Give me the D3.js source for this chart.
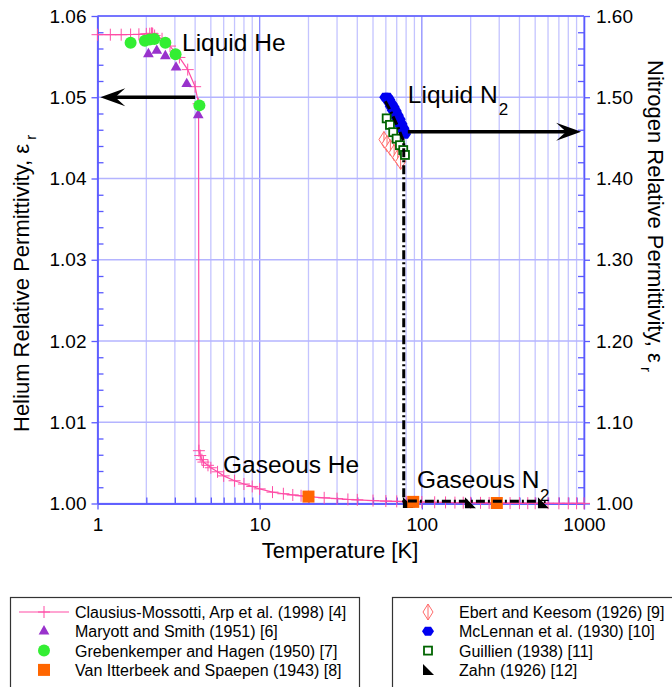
<!DOCTYPE html>
<html>
<head>
<meta charset="utf-8">
<script src="https://cdn.jsdelivr.net/npm/d3@7/dist/d3.min.js"></script>
<style>
  body { margin: 0; background: #fff; }
  svg { display: block; }
</style>
</head>
<body>
<svg class="chart"></svg>
<script>
// Helium / nitrogen relative permittivity vs temperature

// Clausius-Mossotti curve (Arp et al.), helium axis
var cmTemp = [1.0, 1.2, 1.4, 1.6, 1.8, 2.0, 2.1, 2.15, 2.17, 2.19, 2.25, 2.5, 2.8, 3.2, 3.6, 4.0, 4.2,
  4.22, 4.3, 4.4, 4.5, 4.8, 5.0, 5.5, 6, 7, 8, 9, 10, 12, 14, 16, 18, 20, 25, 30, 35, 40, 50, 60, 70, 80, 90,
  100, 120, 140, 160, 180, 200, 230, 260, 300, 350, 400, 450, 500, 600, 700, 800, 900, 1000];
var cmEps = [1.0577, 1.0577, 1.0577, 1.05772, 1.05775, 1.0578, 1.05782, 1.05785, 1.05787, 1.0578, 1.0576, 1.0572, 1.0563, 1.0549, 1.0534, 1.0513, 1.0492,
  1.0065, 1.0059, 1.0054, 1.0051, 1.0047, 1.0044, 1.0039, 1.0034, 1.0028, 1.0024, 1.0021, 1.0018, 1.0014, 1.0012, 1.00105, 1.00095, 1.00085, 1.0007, 1.0006, 1.0005, 1.00045, 1.00036, 1.0003, 1.00026, 1.00022, 1.0002,
  1.00018, 1.00015, 1.00013, 1.00011, 1.0001, 1.00009, 1.00008, 1.00007, 1.00006, 1.00005, 1.000045, 1.00004, 1.000035, 1.00003, 1.000025, 1.000022, 1.00002, 1.000018];

// Maryott and Smith (1951)
var msTemp = [2.06, 2.32, 2.62, 3.05, 3.55, 4.18];
var msEps = [1.05532, 1.05573, 1.05507, 1.05368, 1.05163, 1.04781];

// Grebenkemper and Hagen (1950)
var ghTemp = [1.60, 1.96, 2.10, 2.24, 2.62, 3.03, 4.25];
var ghEps = [1.0567, 1.05696, 1.0571, 1.05717, 1.05671, 1.05528, 1.0490];

// Van Itterbeek and Spaepen (1943)
var viTemp = [20, 88.5, 290];
var viEps = [1.00085, 1.0002, 1.00006];

// nitrogen axis series
// Ebert and Keesom (1926)
var ekTemp = [58.4, 61, 64, 67.5, 71, 74];
var ekEps = [1.448, 1.443, 1.438, 1.432, 1.426, 1.421];

// McLennan et al. (1930)
var mcTemp = [59.5, 60.9, 61.5, 62.7, 63, 64.3, 65, 66.2, 67, 68.2, 69, 70.2, 71, 72.3, 73, 74.3, 75, 76.4, 77, 78.7, 79];
var mcEps = [1.500, 1.499, 1.500, 1.494, 1.497, 1.489, 1.492, 1.484, 1.488, 1.479, 1.483, 1.474, 1.478, 1.469, 1.473, 1.464, 1.467, 1.459, 1.462, 1.4546, 1.457];

// Guillien (1938)
var guTemp = [60.7, 63.6, 66.6, 69.9, 73.3, 76.8, 78.7];
var guEps = [1.474, 1.466, 1.457, 1.449, 1.441, 1.435, 1.429];

// Zahn (1926)
var zaTemp = [82, 198, 558];
var zaEps = [1.0006, 1.0004, 1.0002];

// nitrogen dash-dot curve
var n2Temp = [59.5, 63, 67, 71, 75, 77.35, 77.35, 100, 200, 300, 580];
var n2Eps = [1.4950, 1.4860, 1.4750, 1.4640, 1.4520, 1.4460, 1.0030, 1.0029, 1.0028, 1.0027, 1.0026];

// ticks
var tempTicks = [1, 10, 100, 1000];
var heTicks = [1.00, 1.01, 1.02, 1.03, 1.04, 1.05, 1.06];
var n2Ticks = [1.00, 1.10, 1.20, 1.30, 1.40, 1.50, 1.60];

var legendLeft = ["Clausius-Mossotti, Arp et al. (1998) [4]", "Maryott and Smith (1951) [6]",
  "Grebenkemper and Hagen (1950) [7]", "Van Itterbeek and Spaepen (1943) [8]"];
var legendRight = ["Ebert and Keesom (1926) [9]", "McLennan et al. (1930) [10]",
  "Guillien (1938) [11]", "Zahn (1926) [12]"];

var W = 672, H = 687;
var plot = {left: 97.5, right: 584, top: 16, bottom: 503.5};

var x = d3.scaleLog().domain([1, 1000]).range([plot.left, plot.right]);
var yHe = d3.scaleLinear().domain([1.00, 1.06]).range([plot.bottom, plot.top]);
var yN = d3.scaleLinear().domain([1.00, 1.60]).range([plot.bottom, plot.top]);

var svg = d3.select(".chart")
    .attr("width", W)
    .attr("height", H)
    .style("font-family", "'Liberation Sans', Arial, sans-serif");

svg.append("rect").attr("width", W).attr("height", H).attr("fill", "#fff");

var axisBlue = "#5a5aff";

// grid
var grid = svg.append("g");
grid.selectAll(".vgrid")
    .data(x.ticks())
  .enter().append("line")
    .attr("x1", function(d) { return x(d); })
    .attr("x2", function(d) { return x(d); })
    .attr("y1", plot.top)
    .attr("y2", plot.bottom)
    .attr("stroke", function(d) { return tempTicks.indexOf(d) >= 0 ? "#8c8cff" : "#c4c4ff"; })
    .attr("stroke-width", 1.3);

grid.selectAll(".hgrid")
    .data(heTicks)
  .enter().append("line")
    .attr("x1", plot.left)
    .attr("x2", plot.right)
    .attr("y1", function(d) { return yHe(d); })
    .attr("y2", function(d) { return yHe(d); })
    .attr("stroke", "#b4b4ff")
    .attr("stroke-width", 1.3);

// axes
function styleAxis(g) {
  g.attr("font-family", null).attr("font-size", null);
  g.selectAll("path, line").attr("stroke", axisBlue).attr("stroke-width", 1.3);
  g.selectAll("text").attr("fill", "#000").style("font-size", "19px");
}

var heMinor = d3.range(1, 31).map(function(i) { return 1 + i * 0.002; })
    .filter(function(d, i) { return (i + 1) % 5 !== 0; });
var n2Minor = d3.range(1, 31).map(function(i) { return 1 + i * 0.02; })
    .filter(function(d, i) { return (i + 1) % 5 !== 0; });

svg.append("g")
    .attr("transform", "translate(0," + plot.bottom + ")")
    .call(d3.axisBottom(x).tickValues(tempTicks).tickFormat(d3.format("d")).tickSize(6).tickSizeOuter(0).tickPadding(8))
    .call(styleAxis);

svg.append("g")
    .attr("transform", "translate(0," + plot.bottom + ")")
    .call(d3.axisBottom(x).tickValues(x.ticks().filter(function(d) { return tempTicks.indexOf(d) < 0; })).tickSize(-6).tickSizeOuter(0).tickFormat(""))
    .call(styleAxis);

svg.append("line")
    .attr("x1", plot.left).attr("x2", plot.right)
    .attr("y1", plot.top).attr("y2", plot.top)
    .attr("stroke", axisBlue).attr("stroke-width", 1.3);

svg.append("g")
    .attr("transform", "translate(" + plot.left + ",0)")
    .call(d3.axisLeft(yHe).tickValues(heTicks).tickFormat(d3.format(".2f")).tickSize(6).tickSizeOuter(0).tickPadding(5))
    .call(styleAxis);

svg.append("g")
    .attr("transform", "translate(" + plot.left + ",0)")
    .call(d3.axisLeft(yHe).tickValues(heMinor).tickSize(-6).tickSizeOuter(0).tickFormat(""))
    .call(styleAxis);

svg.append("g")
    .attr("transform", "translate(" + plot.right + ",0)")
    .call(d3.axisRight(yN).tickValues(n2Ticks).tickFormat(d3.format(".2f")).tickSize(6).tickSizeOuter(0).tickPadding(6))
    .call(styleAxis);

svg.append("g")
    .attr("transform", "translate(" + plot.right + ",0)")
    .call(d3.axisRight(yN).tickValues(n2Minor).tickSize(-6).tickSizeOuter(0).tickFormat(""))
    .call(styleAxis);

// axis titles
svg.append("text")
    .attr("x", 340)
    .attr("y", 558)
    .attr("text-anchor", "middle")
    .style("font-size", "22px")
    .text("Temperature [K]");

var lt = svg.append("text")
    .attr("transform", "translate(29,432) rotate(-90)")
    .style("font-size", "22px");
lt.append("tspan").text("Helium Relative Permittivity, ε");
lt.append("tspan").attr("dy", 7).style("font-size", "15px").text(" r");

var rt = svg.append("text")
    .attr("transform", "translate(648,60) rotate(90)")
    .style("font-size", "22px");
rt.append("tspan").text("Nitrogen Relative Permittivity, ε");
rt.append("tspan").attr("dy", 7).style("font-size", "15px").text(" r");

// marker shapes
var plusPath = "M-6,0H6M0,-6V6";
var hexPath = "M-6,0L-3,-4.5L3,-4.5L6,0L3,4.5L-3,4.5Z";
var diamondPath = "M0,-8L5,0L0,8L-5,0ZM0,-8V8";
var rtriPath = "M-5,-6L-5,5L6,5Z";

function pts(t, v) { return t.map(function(d, i) { return [d, v[i]]; }); }

var line = d3.line();

// helium curve
var cm = pts(cmTemp, cmEps);
svg.append("path")
    .attr("d", line(cm.map(function(d) { return [x(d[0]), yHe(d[1])]; })))
    .attr("fill", "none")
    .attr("stroke", "#ff4da6")
    .attr("stroke-width", 1.2);
svg.append("g").selectAll("path")
    .data(cm)
  .enter().append("path")
    .attr("transform", function(d) { return "translate(" + x(d[0]) + "," + yHe(d[1]) + ")"; })
    .attr("d", plusPath)
    .attr("stroke", "#ff4da6")
    .attr("stroke-width", 1);

// helium data
svg.append("g").selectAll("path")
    .data(pts(msTemp, msEps))
  .enter().append("path")
    .attr("transform", function(d) { return "translate(" + x(d[0]) + "," + yHe(d[1]) + ")"; })
    .attr("d", d3.symbol(d3.symbolTriangle, 50))
    .attr("fill", "#9932cc");

svg.append("g").selectAll("circle")
    .data(pts(ghTemp, ghEps))
  .enter().append("circle")
    .attr("cx", function(d) { return x(d[0]); })
    .attr("cy", function(d) { return yHe(d[1]); })
    .attr("r", 6)
    .attr("fill", "#33ee33");

// nitrogen data
svg.append("g").selectAll("path")
    .data(pts(ekTemp, ekEps))
  .enter().append("path")
    .attr("transform", function(d) { return "translate(" + x(d[0]) + "," + yN(d[1]) + ")"; })
    .attr("d", diamondPath)
    .attr("fill", "#fff")
    .attr("stroke", "#ff6b6b")
    .attr("stroke-width", 1);

svg.append("g").selectAll("path")
    .data(pts(mcTemp, mcEps))
  .enter().append("path")
    .attr("transform", function(d) { return "translate(" + x(d[0]) + "," + yN(d[1]) + ")"; })
    .attr("d", hexPath)
    .attr("fill", "#0000f0");

svg.append("g").selectAll("rect")
    .data(pts(guTemp, guEps))
  .enter().append("rect")
    .attr("x", function(d) { return x(d[0]) - 4; })
    .attr("y", function(d) { return yN(d[1]) - 4; })
    .attr("width", 8)
    .attr("height", 8)
    .attr("fill", "#fff")
    .attr("stroke", "#006400")
    .attr("stroke-width", 1.8);

svg.append("g").selectAll("path")
    .data(pts(zaTemp, zaEps))
  .enter().append("path")
    .attr("transform", function(d) { return "translate(" + x(d[0]) + "," + yN(d[1]) + ")"; })
    .attr("d", rtriPath)
    .attr("fill", "#000");

svg.append("g").selectAll("rect")
    .data(pts(viTemp, viEps))
  .enter().append("rect")
    .attr("x", function(d) { return x(d[0]) - 6; })
    .attr("y", function(d) { return yHe(d[1]) - 6; })
    .attr("width", 12)
    .attr("height", 12)
    .attr("fill", "#ff6600");

svg.append("path")
    .attr("d", line(pts(n2Temp, n2Eps).map(function(d) { return [x(d[0]), yN(d[1])]; })))
    .attr("fill", "none")
    .attr("stroke", "#000")
    .attr("stroke-width", 3)
    .attr("stroke-dasharray", "9,3,2,3");

// arrows
function arrow(x1, x2, y) {
  var dir = x2 > x1 ? 1 : -1;
  svg.append("line")
      .attr("x1", x1).attr("x2", x2 - dir * 12)
      .attr("y1", y).attr("y2", y)
      .attr("stroke", "#000").attr("stroke-width", 3.5);
  svg.append("path")
      .attr("d", "M" + x2 + "," + y +
        "L" + (x2 - dir * 25) + "," + (y - 9) +
        "L" + (x2 - dir * 15) + "," + y +
        "L" + (x2 - dir * 25) + "," + (y + 9) + "Z")
      .attr("fill", "#000");
}
arrow(x(4.0), x(1.04), yHe(1.05));
arrow(x(82), x(960), yN(1.4575));

// annotations
function label(px, py, main, sub, subDx, subDy) {
  svg.append("text")
      .attr("x", px).attr("y", py)
      .style("font-size", "24.5px")
      .text(main);
  if (sub) {
    svg.append("text")
        .attr("x", px + subDx).attr("y", py + subDy)
        .style("font-size", "17px")
        .text(sub);
  }
}
label(x(3.32), 51, "Liquid He");
label(x(82), 103, "Liquid N", "2", 91, 12);
label(x(5.94), 473, "Gaseous He");
label(x(93.3), 488, "Gaseous N", "2", 123, 13);

// legend
var legL = svg.append("g");
legL.append("rect")
    .attr("x", 10.5).attr("y", 597.5).attr("width", 349).attr("height", 100)
    .attr("fill", "none").attr("stroke", "#333").attr("stroke-width", 1.2);
var legR = svg.append("g");
legR.append("rect")
    .attr("x", 392.5).attr("y", 597.5).attr("width", 300).attr("height", 100)
    .attr("fill", "none").attr("stroke", "#333").attr("stroke-width", 1.2);

var rowY = function(i) { return 612 + i * 19.3; };

legL.selectAll(".lt")
    .data(legendLeft)
  .enter().append("text")
    .attr("x", 75)
    .attr("y", function(d, i) { return rowY(i) + 6; })
    .style("font-size", "16px")
    .text(function(d) { return d; });

legR.selectAll(".lt")
    .data(legendRight)
  .enter().append("text")
    .attr("x", 459)
    .attr("y", function(d, i) { return rowY(i) + 6; })
    .style("font-size", "16px")
    .text(function(d) { return d; });

legL.append("line")
    .attr("x1", 19).attr("x2", 69).attr("y1", rowY(0)).attr("y2", rowY(0))
    .attr("stroke", "#ff4da6").attr("stroke-width", 1.2);
legL.append("path")
    .attr("transform", "translate(44," + rowY(0) + ")")
    .attr("d", plusPath).attr("stroke", "#ff4da6");
legL.append("path")
    .attr("transform", "translate(44," + rowY(1) + ")")
    .attr("d", d3.symbol(d3.symbolTriangle, 50)).attr("fill", "#9932cc");
legL.append("circle")
    .attr("cx", 44).attr("cy", rowY(2)).attr("r", 6).attr("fill", "#33ee33");
legL.append("rect")
    .attr("x", 38).attr("y", rowY(3) - 6).attr("width", 12).attr("height", 12).attr("fill", "#ff6600");

legR.append("path")
    .attr("transform", "translate(428," + rowY(0) + ")")
    .attr("d", diamondPath).attr("fill", "#fff").attr("stroke", "#ff6b6b");
legR.append("path")
    .attr("transform", "translate(428," + rowY(1) + ")")
    .attr("d", hexPath).attr("fill", "#0000f0");
legR.append("rect")
    .attr("x", 424).attr("y", rowY(2) - 4).attr("width", 8).attr("height", 8)
    .attr("fill", "#fff").attr("stroke", "#006400").attr("stroke-width", 1.8);
legR.append("path")
    .attr("transform", "translate(428," + rowY(3) + ")")
    .attr("d", rtriPath).attr("fill", "#000");
</script>
</body>
</html>
